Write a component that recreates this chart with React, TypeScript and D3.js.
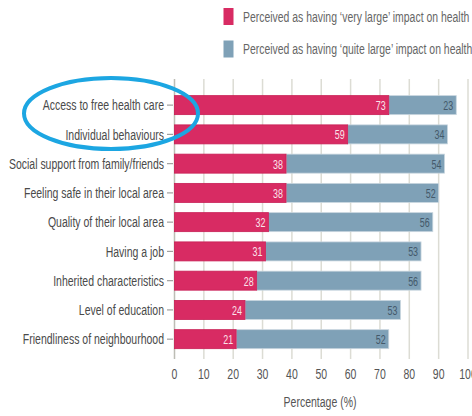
import React, { useRef, useEffect } from "react";
import * as d3 from "d3";

const categories = [
  "Access to free health care",
  "Individual behaviours",
  "Social support from family/friends",
  "Feeling safe in their local area",
  "Quality of their local area",
  "Having a job",
  "Inherited characteristics",
  "Level of education",
  "Friendliness of neighbourhood",
];
const veryLarge = [73, 59, 38, 38, 32, 31, 28, 24, 21];
const quiteLarge = [23, 34, 54, 52, 56, 53, 56, 53, 52];
const xTicks = [0, 10, 20, 30, 40, 50, 60, 70, 80, 90, 100];
const legendLabels = [
  "Perceived as having \u2018very large\u2019 impact on health",
  "Perceived as having \u2018quite large\u2019 impact on health",
];

const RED = "#d82b63";
const BLUE = "#7fa1b7";
const FONT = "'Liberation Sans', Arial, sans-serif";
const SQUEEZE = 0.7; // no condensed font installed, so squeeze horizontally

// places a text at (x, y) and narrows it like a condensed face
const at = (x: number, y: number, s = SQUEEZE) => `translate(${x},${y}) scale(${s},1)`;

function App() {
  const ref = useRef<SVGSVGElement>(null);

  useEffect(() => {
    const width = 472;
    const height = 416;
    const svg = d3.select(ref.current);
    svg.selectAll("*").remove();
    svg.style("font-family", FONT);

    const x = d3.scaleLinear().domain([0, 100]).range([174.5, 468]);
    const y = d3
      .scaleBand()
      .domain(categories)
      .range([90.5, 353.8])
      .paddingInner(0.35)
      .paddingOuter(0.175);
    const mid = (c: string) => y(c)! + y.bandwidth() / 2;

    // gridlines
    svg
      .append("g")
      .selectAll("line")
      .data(xTicks)
      .join("line")
      .attr("x1", (d) => x(d))
      .attr("x2", (d) => x(d))
      .attr("y1", 79)
      .attr("y2", 359)
      .attr("stroke", (d) => (d === 0 ? "#bdbdb5" : "#dcdcd4"))
      .attr("stroke-width", 1.5);

    // y ticks
    svg
      .append("g")
      .selectAll("line")
      .data(categories)
      .join("line")
      .attr("x1", 167)
      .attr("x2", 173)
      .attr("y1", mid)
      .attr("y2", mid)
      .attr("stroke", "#a0a0a0")
      .attr("stroke-width", 1.2);

    // category labels
    svg
      .append("g")
      .selectAll("text")
      .data(categories)
      .join("text")
      .attr("transform", (d) => at(164, mid(d)))
      .attr("dy", "0.35em")
      .attr("text-anchor", "end")
      .attr("fill", "#4a4a4a")
      .style("font-size", "15px")
      .text((d) => d);

    const rows = categories.map((c, i) => ({ c, a: veryLarge[i], b: quiteLarge[i] }));

    const bars = svg.append("g");
    bars
      .selectAll("rect.b")
      .data(rows)
      .join("rect")
      .attr("class", "b")
      .attr("x", (d) => x(d.a))
      .attr("y", (d) => y(d.c)!)
      .attr("width", (d) => x(d.a + d.b) - x(d.a))
      .attr("height", y.bandwidth())
      .attr("fill", BLUE)
      .attr("stroke", "#c9d6df")
      .attr("stroke-width", 0.8);
    bars
      .selectAll("rect.a")
      .data(rows)
      .join("rect")
      .attr("class", "a")
      .attr("x", x(0))
      .attr("y", (d) => y(d.c)!)
      .attr("width", (d) => x(d.a) - x(0))
      .attr("height", y.bandwidth())
      .attr("fill", RED)
      .attr("stroke", "#c81f55")
      .attr("stroke-width", 0.8);

    // value labels
    bars
      .selectAll("text.a")
      .data(rows)
      .join("text")
      .attr("class", "a")
      .attr("transform", (d) => at(x(d.a) - 3, mid(d.c), 0.66))
      .attr("dy", "0.36em")
      .attr("text-anchor", "end")
      .attr("fill", "#fbe3ea")
      .style("font-size", "13.5px")
      .text((d) => d.a);
    bars
      .selectAll("text.b")
      .data(rows)
      .join("text")
      .attr("class", "b")
      .attr("transform", (d) => at(x(d.a + d.b) - 3, mid(d.c), 0.66))
      .attr("dy", "0.36em")
      .attr("text-anchor", "end")
      .attr("fill", "#44596a")
      .style("font-size", "13.5px")
      .text((d) => d.b);

    // x tick labels
    svg
      .append("g")
      .selectAll("text")
      .data(xTicks)
      .join("text")
      .attr("transform", (d) => at(x(d), 374))
      .attr("dy", "0.35em")
      .attr("text-anchor", "middle")
      .attr("fill", "#555")
      .style("font-size", "15px")
      .text((d) => d);

    svg
      .append("text")
      .attr("transform", at(320, 402))
      .attr("dy", "0.35em")
      .attr("text-anchor", "middle")
      .attr("fill", "#555")
      .style("font-size", "15px")
      .text("Percentage (%)");

    // legend
    const legend = svg.append("g");
    [RED, BLUE].forEach((col, i) => {
      const ly = 16.5 + i * 32.5;
      legend
        .append("rect")
        .attr("x", 223.5)
        .attr("y", ly - 8.5)
        .attr("width", 10)
        .attr("height", 17)
        .attr("fill", col);
      legend
        .append("text")
        .attr("transform", at(243, ly, 0.72))
        .attr("dy", "0.35em")
        .attr("fill", "#666")
        .style("font-size", "14.5px")
        .text(legendLabels[i]);
    });

    // highlight ellipse
    svg
      .append("ellipse")
      .attr("cx", 111)
      .attr("cy", 113.5)
      .attr("rx", 87)
      .attr("ry", 35.5)
      .attr("fill", "none")
      .attr("stroke", "#1ca6e2")
      .attr("stroke-width", 4);

    svg.attr("viewBox", [0, 0, width, height]);
  }, []);

  return (
    <svg
      ref={ref}
      width={472}
      height={416}
      style={{ position: "absolute", left: 0, top: 0, background: "#fff" }}
    />
  );
}

export default App;
